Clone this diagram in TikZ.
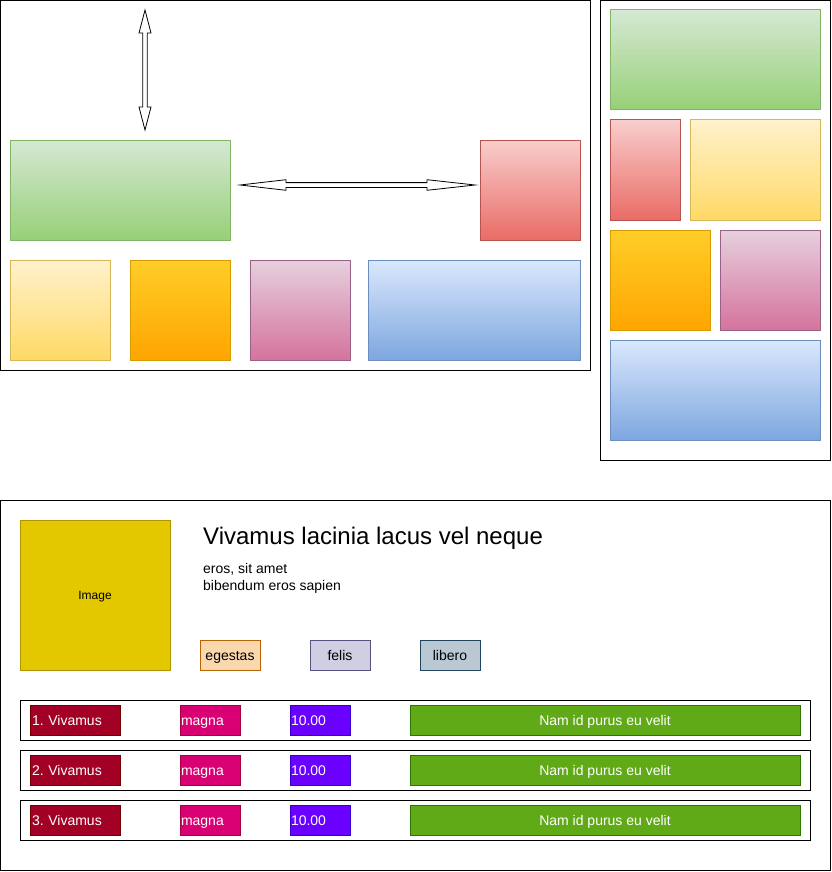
\documentclass[tikz,border=0pt]{standalone}
\usepackage{fontspec}
\setmainfont{Liberation Sans}
\usetikzlibrary{calc}
\frenchspacing
\definecolor{gT}{HTML}{D5E8D4}\definecolor{gB}{HTML}{97D077}\definecolor{gS}{HTML}{82B366}
\definecolor{rT}{HTML}{F8CECC}\definecolor{rB}{HTML}{EA6B66}\definecolor{rS}{HTML}{B85450}
\definecolor{yT}{HTML}{FFF2CC}\definecolor{yB}{HTML}{FFD966}\definecolor{yS}{HTML}{D6B656}
\definecolor{oT}{HTML}{FFCD28}\definecolor{oB}{HTML}{FFA500}\definecolor{oS}{HTML}{D79B00}
\definecolor{pT}{HTML}{E6D0DE}\definecolor{pB}{HTML}{D5739D}\definecolor{pS}{HTML}{996185}
\definecolor{bT}{HTML}{DAE8FC}\definecolor{bB}{HTML}{7EA6E0}\definecolor{bS}{HTML}{6C8EBF}
\definecolor{imgF}{HTML}{E3C800}\definecolor{imgS}{HTML}{B09500}
\definecolor{egF}{HTML}{FAD7AC}\definecolor{egS}{HTML}{B46504}
\definecolor{feF}{HTML}{D0CEE2}\definecolor{feS}{HTML}{56517E}
\definecolor{liF}{HTML}{BAC8D3}\definecolor{liS}{HTML}{23445D}
\definecolor{viF}{HTML}{A20025}\definecolor{viS}{HTML}{6F0000}
\definecolor{maF}{HTML}{D80073}\definecolor{maS}{HTML}{A50040}
\definecolor{nuF}{HTML}{6A00FF}\definecolor{nuS}{HTML}{3700CC}
\definecolor{naF}{HTML}{60A917}\definecolor{naS}{HTML}{2D7600}
\tikzset{
  box/.style={draw, line width=1pt, anchor=north west, inner sep=0pt, outer sep=0pt},
  wh/.style 2 args={minimum width=#1pt, minimum height=#2pt},
  ggreen/.style={box, draw=gS, top color=gT, bottom color=gB},
  gred/.style={box, draw=rS, top color=rT, bottom color=rB},
  gyellow/.style={box, draw=yS, top color=yT, bottom color=yB},
  gorange/.style={box, draw=oS, top color=oT, bottom color=oB},
  gpink/.style={box, draw=pS, top color=pT, bottom color=pB},
  gblue/.style={box, draw=bS, top color=bT, bottom color=bB},
  frame/.style={box, draw=black},
  flexarrow/.style={draw=black, fill=white, line width=0.8pt, line join=miter},
  tagbox/.style={box, wh={60}{30}, font=\fontsize{14}{17}\selectfont, text height=10pt, text depth=0pt},
  rowbox/.style={box, text=white, font=\fontsize{14}{17}\selectfont, text height=10pt, text depth=0pt, minimum height=30pt},
}
\begin{document}
\begin{tikzpicture}[x=1pt,y=-1pt]
\useasboundingbox (0,0) rectangle (831,872);
% top-left panel
\node[frame, wh={590}{370}] (panelA) at (0.5,0.5) {};
\node[ggreen, wh={220}{100}] (aGreen) at (10,140) {};
\node[gred, wh={100}{100}] (aRed) at (480,140) {};
\node[gyellow, wh={100}{100}] (aYellow) at (10,260) {};
\node[gorange, wh={100}{100}] (aOrange) at (130,260) {};
\node[gpink, wh={100}{100}] (aPink) at (250,260) {};
\node[gblue, wh={212}{100}] (aBlue) at (368,260) {};
% arrows
\coordinate (vtop) at (145,10);
\coordinate (vbot) at (145,130);
\draw[flexarrow] (vtop) -- ($(vtop)+(6,23)$) -- ($(vtop)+(2.3,23)$) -- ($(vbot)+(2.3,-23)$) -- ($(vbot)+(6,-23)$) -- (vbot)
  -- ($(vbot)+(-6,-23)$) -- ($(vbot)+(-2.3,-23)$) -- ($(vtop)+(-2.3,23)$) -- ($(vtop)+(-6,23)$) -- cycle;
\coordinate (hl) at (240,185);
\coordinate (hr) at (475,185);
\draw[flexarrow] (hl) -- ($(hl)+(46,-5.3)$) -- ($(hl)+(46,-2.4)$) -- ($(hr)+(-48,-2.4)$) -- ($(hr)+(-48,-5.3)$) -- (hr)
  -- ($(hr)+(-48,5.3)$) -- ($(hr)+(-48,2.4)$) -- ($(hl)+(46,2.4)$) -- ($(hl)+(46,5.3)$) -- cycle;
% right panel
\node[frame, wh={230}{460}] (panelB) at (600.5,0.5) {};
\node[ggreen, wh={210}{100}] (bGreen) at (610,10) {};
\node[gred, wh={70}{100}] (bRed) at (610,120) {};
\node[gyellow, wh={130}{100}] (bYellow) at (690,120) {};
\node[gorange, wh={100}{100}] (bOrange) at (610,230) {};
\node[gpink, wh={100}{100}] (bPink) at (720,230) {};
\node[gblue, wh={210}{100}] (bBlue) at (610,340) {};
% bottom panel
\node[frame, wh={830}{370}] (panelC) at (0.5,500.5) {};
\node[box, draw=imgS, fill=imgF, wh={150}{150}, font=\fontsize{12}{14}\selectfont, text height=8.6pt, text depth=0pt] (img) at (20,520) {Image};
\node[anchor=base west, inner sep=0pt, font=\fontsize{24}{29}\selectfont] (title) at (203,544) {Vivamus lacinia lacus vel neque};
\node[anchor=base west, inner sep=0pt, font=\fontsize{14}{17}\selectfont] (sub1) at (203,573) {eros, sit amet};
\node[anchor=base west, inner sep=0pt, font=\fontsize{14}{17}\selectfont] (sub2) at (203,590) {bibendum eros sapien};
\node[tagbox, draw=egS, fill=egF] (tag1) at (200,640) {egestas};
\node[tagbox, draw=feS, fill=feF] (tag2) at (310,640) {felis};
\node[tagbox, draw=liS, fill=liF] (tag3) at (420,640) {libero};
\foreach \i/\y in {1/700,2/750,3/800}{
  \node[frame, wh={790}{40}] (row\i) at (20,\y) {};
  \node[rowbox, draw=viS, fill=viF, text width=86pt, align=left, inner xsep=2pt] (viv\i) at (30,\y+5) {\i. Vivamus};
  \node[rowbox, draw=maS, fill=maF, text width=58pt, align=left, inner xsep=1pt, minimum width=60pt] (mag\i) at (180,\y+5) {magna};
  \node[rowbox, draw=nuS, fill=nuF, text width=58pt, align=left, inner xsep=1pt, minimum width=60pt] (num\i) at (290,\y+5) {10.00};
  \node[rowbox, draw=naS, fill=naF, minimum width=390pt] (nam\i) at (410,\y+5) {Nam id purus eu velit};
}
\end{tikzpicture}
\end{document}
